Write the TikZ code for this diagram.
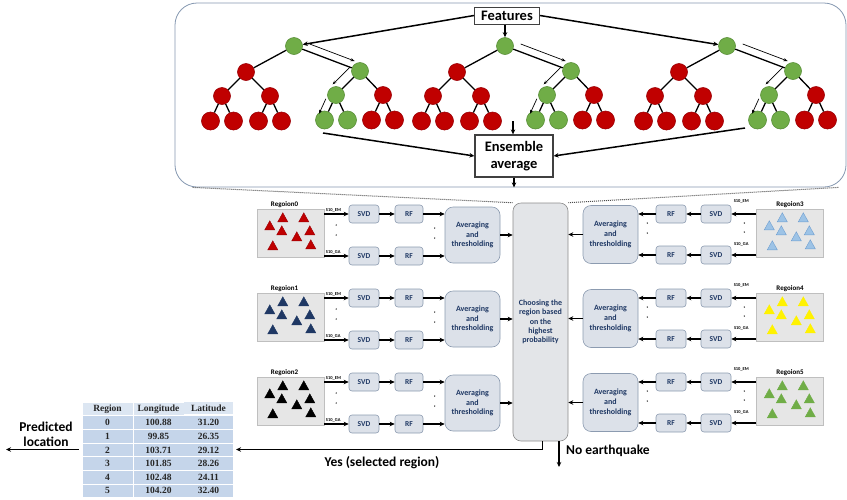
\documentclass[tikz,border=0pt]{standalone}
\usepackage{fontspec}
\setmainfont{Carlito}
\newfontfamily\tabfont{Liberation Serif}
\usetikzlibrary{arrows.meta,positioning,calc,matrix}

\definecolor{tred}{HTML}{C00000}
\definecolor{treddark}{HTML}{9C0006}
\definecolor{tgreen}{HTML}{70AD47}
\definecolor{tgreendark}{HTML}{5A8F39}
\definecolor{boxline}{HTML}{8497B0}
\definecolor{blkfill}{HTML}{DCE1E9}
\definecolor{blkline}{HTML}{8C9BB0}
\definecolor{blktext}{HTML}{1F3864}
\definecolor{regfill}{HTML}{E6E6E6}
\definecolor{regline}{HTML}{BFBFBF}
\definecolor{choosefill}{HTML}{E3E5E8}
\definecolor{tabhead}{HTML}{DCE6F2}
\definecolor{tabrow}{HTML}{C5D5EA}
\definecolor{lblue}{HTML}{9DC3E6}
\definecolor{lbluedark}{HTML}{6F9FD0}
\definecolor{navytri}{HTML}{1F3864}

% one tree of the forest: #1 name prefix, #2 x of the root
\newcommand{\rftree}[2]{%
  \node[gnode] (#1r) at (#2,46) {};
  \node[rnode] (#1a) at ([shift={(-48,26)}]#1r) {};
  \node[gnode] (#1b) at ([shift={(66,25)}]#1r) {};
  \node[rnode] (#1aa) at ([shift={(-24,24)}]#1a) {};
  \node[rnode] (#1ab) at ([shift={(24,24)}]#1a) {};
  \node[gnode] (#1ba) at ([shift={(-24,24)}]#1b) {};
  \node[rnode] (#1bb) at ([shift={(23,24)}]#1b) {};
  \node[leafr] (#1aaa) at ([shift={(-11.5,25)}]#1aa) {};
  \node[leafr] (#1aab) at ([shift={(11.5,25)}]#1aa) {};
  \node[leafr] (#1aba) at ([shift={(-11.5,25)}]#1ab) {};
  \node[leafr] (#1abb) at ([shift={(11.5,25)}]#1ab) {};
  \node[leafg] (#1baa) at ([shift={(-11.5,25)}]#1ba) {};
  \node[leafg] (#1bab) at ([shift={(11.5,25)}]#1ba) {};
  \node[leafr] (#1bba) at ([shift={(-11.5,25)}]#1bb) {};
  \node[leafr] (#1bbb) at ([shift={(11.5,25)}]#1bb) {};
  \draw[edge] (#1r) -- (#1a) (#1r) -- (#1b)
    (#1a) -- (#1aa) (#1a) -- (#1ab) (#1b) -- (#1ba) (#1b) -- (#1bb)
    (#1aa) -- (#1aaa) (#1aa) -- (#1aab) (#1ab) -- (#1aba) (#1ab) -- (#1abb)
    (#1ba) -- (#1baa) (#1ba) -- (#1bab) (#1bb) -- (#1bba) (#1bb) -- (#1bbb);
  % decision path
  \draw[flow] ($(#1r)!0.2!(#1b)+(2.5,-7)$) -- ($(#1r)!0.88!(#1b)+(2.5,-7)$);
  \draw[flow] ($(#1b)!0.12!(#1ba)+(-7,-7)$) -- ($(#1b)!0.85!(#1ba)+(-7,-7)$);
  \draw[flow] ($(#1ba)!0.27!(#1baa)+(-7,-3)$) -- ($(#1ba)!0.87!(#1baa)+(-7,-3)$);
}

% triangles of a region
\newcommand{\regtris}[3]{%
  \foreach \dx/\dy in {13/17,26/9,47/9,25/22,53/22,40/28,16/37,54/36}
    \filldraw[fill=#2, draw=#3, line width=0.4pt]
      ([shift={(\dx,\dy)}]#1.north west) ++(-5,4) -- ++(10,0) -- ++(-5,-9) -- cycle;
}

% row on the left: #1 region, #2 vertical offset, #3 fill, #4 border
\newcommand{\regrowleft}[4]{%
  \node[region] (reg#1) at (290.5,233+#2) {};
  \node[reglbl, anchor=south] (lab#1) at ([xshift=-6pt]reg#1.north) {Regoion#1};
  \regtris{reg#1}{#3}{#4}
  \node[blk, minimum width=30pt, minimum height=18pt] (svdA#1) at (364,214+#2) {SVD};
  \node[blk, minimum width=30pt, minimum height=18pt] (svdB#1) at (364,256+#2) {SVD};
  \node[blk, minimum width=28pt, minimum height=18pt] (rfA#1) at (409,214+#2) {RF};
  \node[blk, minimum width=28pt, minimum height=18pt] (rfB#1) at (409,256+#2) {RF};
  \node[avgbox] (avg#1) at (472.5,235+#2) {Averaging\\and\\thresholding};
  \draw[arr] (reg#1.east |- svdA#1) -- node[sig, pos=0, anchor=south west] (emA#1) {S10\_EM} (svdA#1);
  \draw[arr] (reg#1.east |- svdB#1) -- node[sig, pos=0, anchor=south west] (gaB#1) {S10\_GA} (svdB#1);
  \draw[arr] (svdA#1) -- (rfA#1);
  \draw[arr] (svdB#1) -- (rfB#1);
  \draw[arr] (rfA#1) -- (rfA#1 -| avg#1.west);
  \draw[arr] (rfB#1) -- (rfB#1 -| avg#1.west);
  \draw[arr] (avg#1) -- (avg#1 -| choose.west);
  \fill ($(reg#1.east |- svdA#1)+(12,11)$) circle (0.7pt) ++(0,10) circle (0.7pt);
  \fill ($(avg#1.west |- rfA#1)+(-10,14)$) circle (0.7pt) ++(0,10) circle (0.7pt);
}

% row on the right
\newcommand{\regrowright}[4]{%
  \node[region] (reg#1) at (790,233+#2) {};
  \node[reglbl, anchor=south] (lab#1) at (reg#1.north) {Regoion#1};
  \regtris{reg#1}{#3}{#4}
  \node[blk, minimum width=30pt, minimum height=18pt] (svdA#1) at (716,214+#2) {SVD};
  \node[blk, minimum width=30pt, minimum height=18pt] (svdB#1) at (716,255+#2) {SVD};
  \node[blk, minimum width=30pt, minimum height=18pt] (rfA#1) at (671,214+#2) {RF};
  \node[blk, minimum width=30pt, minimum height=18pt] (rfB#1) at (671,255+#2) {RF};
  \node[avgbox, minimum height=58pt] (avg#1) at (610.5,234.5+#2) {Averaging\\and\\thresholding};
  \node[sig] (emA#1) at ([shift={(10,-13)}]svdA#1.east) {S10\_EM};
  \node[sig] (gaB#1) at ([shift={(10,-11)}]svdB#1.east) {S10\_GA};
  \draw[arr] (reg#1.west |- svdA#1) -- (svdA#1);
  \draw[arr] (reg#1.west |- svdB#1) -- (svdB#1);
  \draw[arr] (svdA#1) -- (rfA#1);
  \draw[arr] (svdB#1) -- (rfB#1);
  \draw[arr] (rfA#1) -- (rfA#1 -| avg#1.east);
  \draw[arr] (rfB#1) -- (rfB#1 -| avg#1.east);
  \draw[arr] (avg#1 -| choose.east) ++(15,0) -- (avg#1 -| choose.east);
  \fill ($(reg#1.west |- svdA#1)+(-12,9)$) circle (0.7pt) ++(0,9) circle (0.7pt);
  \fill ($(avg#1.east |- rfA#1)+(9,9)$) circle (0.7pt) ++(0,10) circle (0.7pt);
}

\begin{document}
\begin{tikzpicture}[x=1pt, y=-1pt,
  tnode/.style={circle, minimum size=17pt, inner sep=0pt, line width=0.6pt},
  rnode/.style={tnode, fill=tred, draw=treddark},
  gnode/.style={tnode, fill=tgreen, draw=tgreendark},
  leafr/.style={rnode, minimum size=18pt},
  leafg/.style={gnode, minimum size=18pt},
  edge/.style={line width=1.3pt},
  flow/.style={-{Stealth[length=4pt,width=3pt]}, line width=0.7pt},
  arr/.style={-{Stealth[length=5pt,width=4.5pt]}, line width=1.5pt},
  bigbox/.style={draw=black!75, fill=white, line width=1pt, align=center, inner sep=1pt, font=\bfseries\fontsize{14.5}{17}\selectfont},
  blk/.style={draw=blkline, fill=blkfill, rounded corners=3pt, inner sep=0pt, text=blktext, line width=0.6pt, font=\bfseries\fontsize{7.5}{8}\selectfont},
  avgbox/.style={blk, rounded corners=8pt, minimum width=55pt, minimum height=56pt, align=center, font=\bfseries\fontsize{8}{9.7}\selectfont},
  region/.style={draw=regline, fill=regfill, minimum width=67pt, minimum height=48pt, inner sep=0pt},
  reglbl/.style={font=\bfseries\fontsize{7}{8}\selectfont, inner sep=1pt},
  sig/.style={font=\bfseries\fontsize{4.5}{5}\selectfont, inner sep=1pt},
  lbl/.style={font=\bfseries\fontsize{13.5}{15}\selectfont, inner sep=0pt},
  tabcell/.style={fill=tabrow, inner sep=0pt, minimum height=12.6pt, text=black!85, font=\tabfont\bfseries\fontsize{9.5}{10}\selectfont}
]
\useasboundingbox (0,0) rectangle (847,499);

% random forest (zoomed)
\node[draw=boxline, rounded corners=22pt, line width=0.8pt, minimum width=671pt, minimum height=184pt, inner sep=0pt] (topbox) at (510.5,95) {};
\node[bigbox, minimum width=65pt, minimum height=17pt] (feat) at (507,15.5) {Features};
\rftree{L}{294}
\rftree{C}{505}
\rftree{R}{727}
\draw[arr] (feat.west) -- (Lr);
\draw[arr] (feat.south -| Cr) -- (Cr);
\draw[arr] (feat.east) -- (Rr);

\node[bigbox, line width=1.3pt, minimum width=78pt, minimum height=42pt] (ens) at (514,156) {Ensemble\\average};
\coordinate (ensin) at (513,121);
\coordinate (Lout) at (323,133);
\coordinate (Rout) at (745,128);
\draw[arr] (ensin) -- (ensin |- ens.north);
\draw[arr] (Lout) -- (ens.west);
\draw[arr] (Rout) -- (ens.east);
\draw[arr] (ens.south) -- (ens.south |- topbox.south);

% decision block
\node[blk, rounded corners=8pt, fill=choosefill, draw=black!45, minimum width=55pt, minimum height=238pt, align=center, font=\bfseries\fontsize{8}{9.4}\selectfont] (choose) at (540.5,322) {Choosing the\\region based\\on the\\highest\\probability};
\draw[densely dotted, line width=1pt, black!70] ([xshift=18pt]topbox.south west) -- (choose.north west);
\draw[densely dotted, line width=1pt, black!70] ([xshift=-8pt]topbox.south east) -- (choose.north east);

% regions
\regrowleft{0}{0}{tred}{treddark}
\regrowleft{1}{84}{navytri}{navytri}
\regrowleft{2}{168}{black}{black}
\regrowright{3}{0}{lblue}{lbluedark}
\regrowright{4}{84}{yellow}{yellow}
\regrowright{5}{168}{tgreen}{tgreen}

% output
\matrix (tab) [matrix of nodes, row sep=1pt, column sep=1pt, nodes={tabcell},
  row 1/.style={nodes={fill=tabhead}},
  column 1/.style={nodes={minimum width=50pt}},
  column 2/.style={nodes={minimum width=50pt}},
  column 3/.style={nodes={minimum width=48pt}}] at (157.5,449.5) {
  Region & Longitude & Latitude \\
  0 & 100.88 & 31.20 \\
  1 & 99.85 & 26.35 \\
  2 & 103.71 & 29.12 \\
  3 & 101.85 & 28.26 \\
  4 & 102.48 & 24.11 \\
  5 & 104.20 & 32.40 \\
};
\draw[arr] ([xshift=2pt]choose.south) |- (tab.east);
\node[lbl] (yes) at (382,463) {Yes (selected region)};
\coordinate (noend) at (559,467);
\draw[arr] (choose.south -| noend) -- (noend);
\node[lbl, anchor=west] (noeq) at (566,451) {No earthquake};
\node[lbl, align=center] (pred) at (46,434) {Predicted\\location};
\coordinate (predend) at (6,450);
\draw[arr] (tab.west) -- (tab.west -| predend);

\end{tikzpicture}
\end{document}
